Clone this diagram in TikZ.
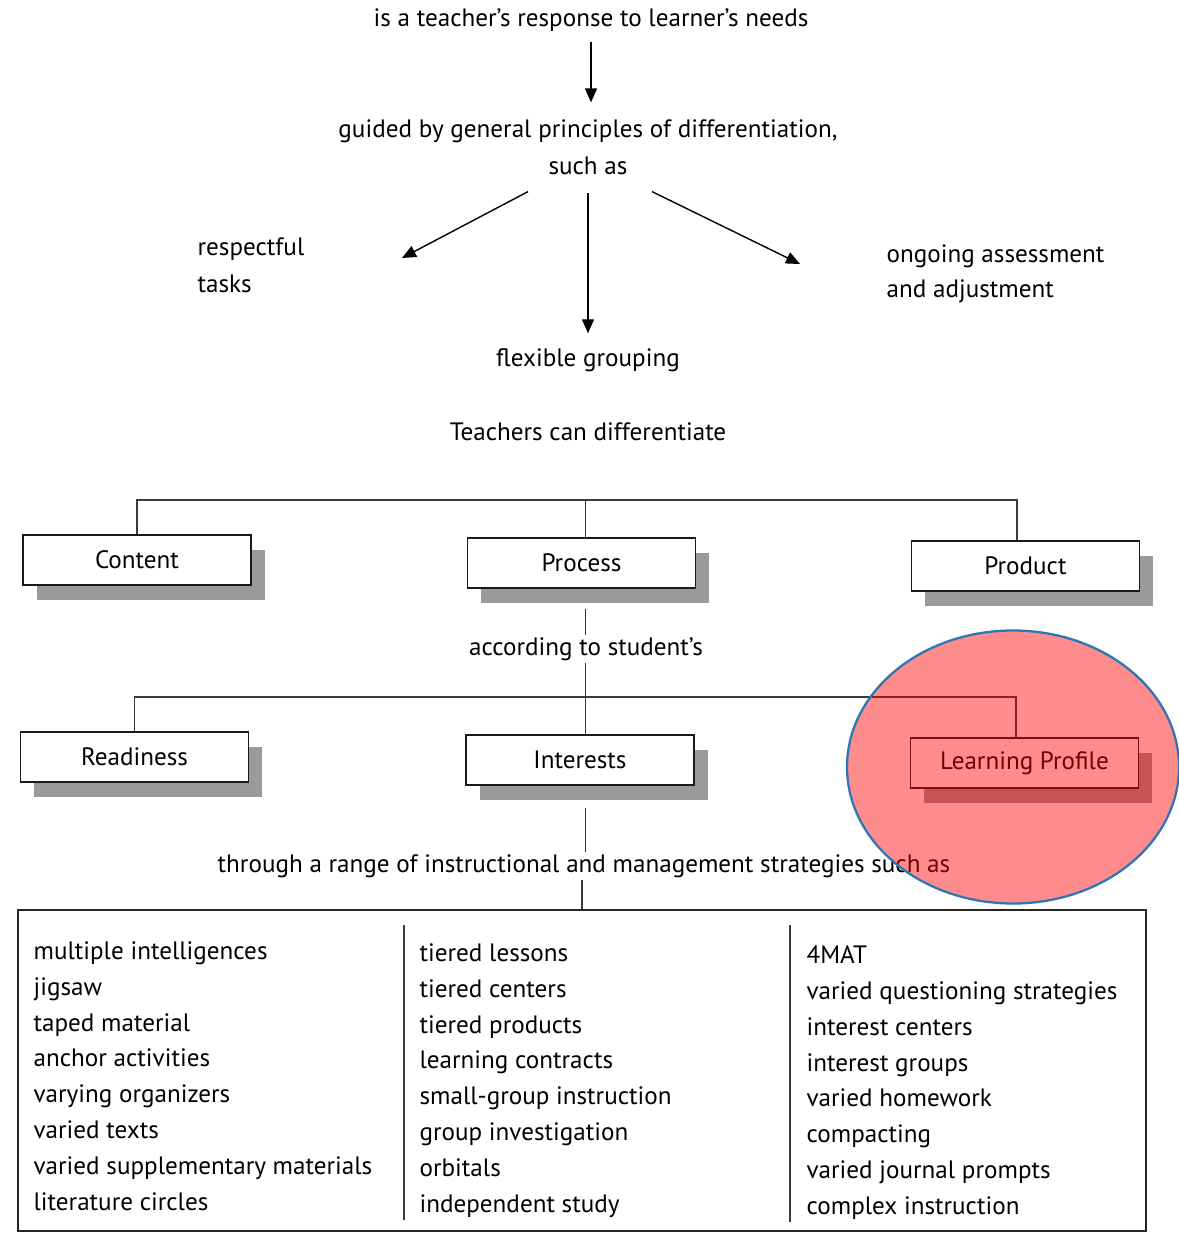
\documentclass[tikz,border=0pt]{standalone}
\usepackage{fontspec}
\setmainfont{PT Sans}
\usetikzlibrary{arrows.meta, positioning, shadows}
\definecolor{shadowgray}{HTML}{9A9A9A}
\definecolor{linegray}{HTML}{3A3A3A}
\definecolor{ringblue}{HTML}{2E75B6}

\begin{document}
\begin{tikzpicture}[
    txt/.style   = {font=\fontsize{14.3}{21}\selectfont, inner sep=1pt},
    multi/.style = {txt, align=left, anchor=north west},
    listcol/.style = {font=\fontsize{14.3}{20.4}\selectfont, inner sep=1pt,
      align=left, anchor=north west},
    level/.style = {
      rectangle, draw=black!90, fill=white, line width=1.1pt,
      minimum width=4.56cm, minimum height=1.0cm,
      font=\fontsize{14.3}{16}\selectfont,
      general shadow={fill=shadowgray, shadow xshift=0.27cm, shadow yshift=-0.29cm}
    },
    frame/.style = {rectangle, draw=black!85, line width=1.1pt,
      minimum width=22.56cm, minimum height=6.42cm},
    arrow/.style = {-{Triangle[length=2.8mm, width=2.4mm]}, line width=0.8pt},
    link/.style  = {line width=1pt, draw=linegray}
  ]
  \useasboundingbox (0,0) rectangle (23.56,-24.66);

  % Top chain
  \node[txt] at (11.82, -0.40) (response) {is a teacher's response to learner's needs};
  \node[txt, align=center] at (11.76, -2.94) (guided)
       {guided by general principles of differentiation,\\such as};

  % Principles
  \node[multi] at (3.91, -4.72)  (respect) {respectful\\tasks};
  \node[multi, font=\fontsize{14.3}{20}\selectfont] at (17.69, -4.85) (ongoing)
       {ongoing assessment\\and adjustment};
  \node[txt]   at (11.76, -7.20) (flexible) {flexible grouping};
  \coordinate (tipL) at (8.04, -5.16);
  \coordinate (tipR) at (16.00, -5.28);

  \node[txt] at (11.76, -8.64) (teachers) {Teachers can differentiate};

  % First row of boxes
  \node[level] at (2.74, -11.20)  (content) {Content};
  \node[level] at (11.63, -11.26) (process) {Process};
  \node[level] at (20.51, -11.32) (product) {Product};

  \node[txt] at (11.72, -12.98) (according) {according to student's};

  % Second row of boxes
  \node[level] at (2.69, -15.14)  (readiness) {Readiness};
  \node[level] at (11.60, -15.20) (interests) {Interests};
  \node[level] at (20.49, -15.26) (profile)   {Learning Profile};

  \node[txt] at (11.68, -17.32) (through)
       {through a range of instructional and management strategies such as};

  % Strategies box
  \node[frame] at (11.64, -21.41) (strategies) {};
  \node[listcol] at (0.63, -18.79) (colA) {multiple intelligences\\jigsaw\\taped material\\anchor activities\\varying organizers\\varied texts\\varied supplementary materials\\literature circles};
  \node[listcol] at (8.35, -18.83) (colB) {tiered lessons\\tiered centers\\tiered products\\learning contracts\\small-group instruction\\group investigation\\orbitals\\independent study};
  \node[listcol] at (16.09, -18.87) (colC) {4MAT\\varied questioning strategies\\interest centers\\interest groups\\varied homework\\compacting\\varied journal prompts\\complex instruction};
  \draw[link] (8.08, -18.50) -- (8.08, -24.40);
  \draw[link] (15.80, -18.50) -- (15.80, -24.44);

  % Arrows
  \draw[arrow] ([yshift=-0.16cm]response.south) -- ([yshift=0.30cm]response.south |- guided.north);
  \draw[arrow] ([shift={(-1.20,-0.30)}]guided.south) -- (tipL);
  \draw[arrow] ([yshift=-0.32cm]guided.south) -- ([yshift=0.26cm]flexible.north);
  \draw[arrow] ([shift={(1.28,-0.30)}]guided.south) -- (tipR);

  % Tree lines
  \coordinate (spine) at (11.71, 0);
  \coordinate (barA) at (2.72, -10.00);
  \coordinate (barB) at (20.34, -10.00);
  \draw[link] (content.north) |- (barA) -- (barB) -- (barB |- product.north);
  \draw[link] (process.north -| spine) -- (barA -| spine);
  \draw[link] ([yshift=-0.40cm]process.south -| spine) -- (according.north -| spine);

  \coordinate (barC) at (2.72, -13.94);
  \coordinate (barD) at (20.32, -13.94);
  \draw[link] (readiness.north) |- (barC) -- (barD) -- (barD |- profile.north);
  \draw[link] (according.south -| spine) -- (interests.north -| spine);
  \draw[link] ([yshift=-0.45cm]interests.south -| spine) -- (through.north -| spine);
  \draw[link] ([xshift=-0.04cm]through.south) -- ([xshift=-0.04cm]through.south |- strategies.north);

  % Highlight
  \draw[ringblue, line width=1.3pt, fill=red, fill opacity=0.45]
       (20.26, -15.34) ellipse [x radius=3.32cm, y radius=2.73cm];
\end{tikzpicture}
\end{document}
